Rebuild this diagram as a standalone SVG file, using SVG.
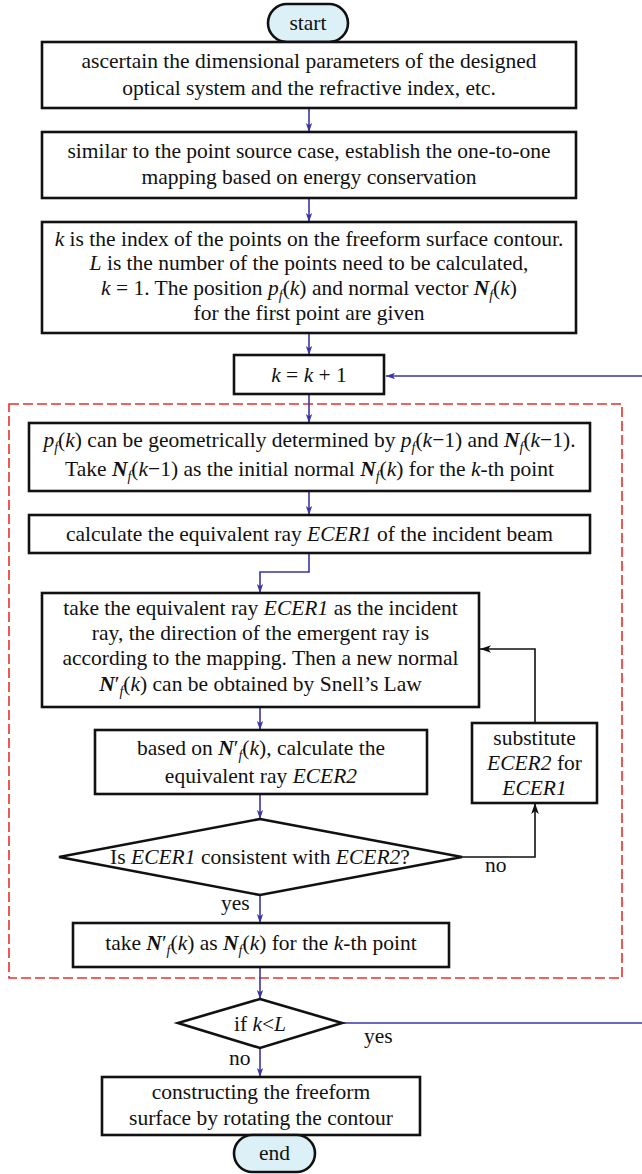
<svg xmlns="http://www.w3.org/2000/svg" width="642" height="1174" viewBox="0 0 642 1174" font-family="'Liberation Serif', 'DejaVu Serif', serif">
  <defs>
    <style>
      .box { fill: #ffffff; stroke: #111111; stroke-width: 2.6; }
      .term { fill: #dcf1f7; stroke: #111111; stroke-width: 2.6; }
      text { font-family: 'Liberation Serif', 'DejaVu Serif', serif; font-size: 21.5px; fill: #111111; }
      .t { text-anchor: middle; }
      .i { font-style: italic; }
      .bi { font-style: italic; font-weight: bold; }
      .sub { font-style: italic; font-size: 14px; }
      .flow { fill: none; stroke: #3a35a8; stroke-width: 1.6; }
      .back { fill: none; stroke: #111111; stroke-width: 1.6; }
      .frame { fill: none; stroke: #e8302a; stroke-width: 1.6; stroke-dasharray: 10 4; }
    </style>
    <marker id="ah" viewBox="0 0 10 10" refX="10" refY="5" markerWidth="9" markerHeight="9" markerUnits="userSpaceOnUse" orient="auto">
      <path d="M0,1.5 L10,5 L0,8.5 L2.5,5 Z" fill="#3a35a8"/>
    </marker>
    <marker id="ahk" viewBox="0 0 10 10" refX="10" refY="5" markerWidth="11" markerHeight="11" markerUnits="userSpaceOnUse" orient="auto">
      <path d="M0,1.5 L10,5 L0,8.5 L2.5,5 Z" fill="#111111"/>
    </marker>
  </defs>

  <!-- dashed frame around the per-point iteration -->
  <rect class="frame" x="9" y="404" width="613" height="574"/>

  <g id="connectors">
    <path class="flow" d="M309,108 V132" marker-end="url(#ah)"/>
    <path class="flow" d="M309,198 V222" marker-end="url(#ah)"/>
    <path class="flow" d="M309,333 V355" marker-end="url(#ah)"/>
    <path class="flow" d="M642,376 H386" marker-end="url(#ah)"/>
    <path class="flow" d="M309,394 V423" marker-end="url(#ah)"/>
    <path class="flow" d="M309,491 V515" marker-end="url(#ah)"/>
    <path class="flow" d="M309,553 V572 H260 V593" marker-end="url(#ah)"/>
    <path class="flow" d="M260,707 V730" marker-end="url(#ah)"/>
    <path class="flow" d="M260,794 V819" marker-end="url(#ah)"/>
    <path class="back" d="M462,857 H535 V803" marker-end="url(#ahk)"/>
    <path class="back" d="M535,723 V649 H480" marker-end="url(#ahk)"/>
    <path class="flow" d="M260,895 V923" marker-end="url(#ah)"/>
    <path class="flow" d="M260,967 V999" marker-end="url(#ah)"/>
    <path class="flow" d="M342,1023 H642"/>
    <path class="flow" d="M260,1048 V1077" marker-end="url(#ah)"/>
    <text x="485" y="872">no</text>
    <text x="221" y="910">yes</text>
    <text x="364" y="1043">yes</text>
    <text x="229" y="1065">no</text>
  </g>

  <g id="start">
    <rect class="term" x="268" y="4" width="80" height="38" rx="19"/>
    <text class="t" x="308" y="30">start</text>
  </g>

  <g id="parameters">
    <rect class="box" x="42" y="42" width="534" height="66"/>
    <text class="t" x="309" y="68">ascertain the dimensional parameters of the designed</text>
    <text class="t" x="309" y="95">optical system and the refractive index, etc.</text>
  </g>

  <g id="mapping">
    <rect class="box" x="42" y="132" width="534" height="66"/>
    <text class="t" x="309" y="158">similar to the point source case, establish the one-to-one</text>
    <text class="t" x="309" y="184">mapping based on energy conservation</text>
  </g>

  <g id="init">
    <rect class="box" x="42" y="222" width="534" height="111"/>
    <text class="t" x="309" y="246"><tspan class="i">k</tspan> is the index of the points on the freeform surface contour.</text>
    <text class="t" x="309" y="270"><tspan class="i">L</tspan> is the number of the points need to be calculated,</text>
    <text class="t" x="309" y="295"><tspan class="i">k</tspan> = 1. The position <tspan class="i">p</tspan><tspan class="sub" dy="4.5">f</tspan><tspan dy="-4.5">(</tspan><tspan class="i">k</tspan>) and normal vector <tspan class="bi">N</tspan><tspan class="sub" dy="4.5">f</tspan><tspan dy="-4.5">(</tspan><tspan class="i">k</tspan>)</text>
    <text class="t" x="309" y="320">for the first point are given</text>
  </g>

  <g id="increment">
    <rect class="box" x="234" y="355" width="150" height="39"/>
    <text class="t" x="309" y="382"><tspan class="i">k</tspan> = <tspan class="i">k</tspan> + 1</text>
  </g>

  <g id="predict">
    <rect class="box" x="29" y="423" width="561" height="68"/>
    <text class="t" x="309.5" y="447"><tspan class="i">p</tspan><tspan class="sub" dy="4.5">f</tspan><tspan dy="-4.5">(</tspan><tspan class="i">k</tspan>) can be geometrically determined by <tspan class="i">p</tspan><tspan class="sub" dy="4.5">f</tspan><tspan dy="-4.5">(</tspan><tspan class="i">k</tspan>−1) and <tspan class="bi">N</tspan><tspan class="sub" dy="4.5">f</tspan><tspan dy="-4.5">(</tspan><tspan class="i">k</tspan>−1).</text>
    <text class="t" x="309.5" y="476">Take <tspan class="bi">N</tspan><tspan class="sub" dy="4.5">f</tspan><tspan dy="-4.5">(</tspan><tspan class="i">k</tspan>−1) as the initial normal <tspan class="bi">N</tspan><tspan class="sub" dy="4.5">f</tspan><tspan dy="-4.5">(</tspan><tspan class="i">k</tspan>) for the <tspan class="i">k</tspan>-th point</text>
  </g>

  <g id="ecer1">
    <rect class="box" x="29" y="515" width="561" height="38"/>
    <text class="t" x="309.5" y="541">calculate the equivalent ray <tspan class="i">ECER1</tspan> of the incident beam</text>
  </g>

  <g id="snell">
    <rect class="box" x="42" y="593" width="437" height="114"/>
    <text class="t" x="260.5" y="615">take the equivalent ray <tspan class="i">ECER1</tspan> as the incident</text>
    <text class="t" x="260.5" y="640">ray, the direction of the emergent ray is</text>
    <text class="t" x="260.5" y="665">according to the mapping. Then a new normal</text>
    <text class="t" x="260.5" y="691"><tspan class="bi">N</tspan>′<tspan class="sub" dy="4.5">f</tspan><tspan dy="-4.5">(</tspan><tspan class="i">k</tspan>) can be obtained by Snell’s Law</text>
  </g>

  <g id="ecer2">
    <rect class="box" x="95" y="730" width="332" height="64"/>
    <text class="t" x="261" y="755">based on <tspan class="bi">N</tspan>′<tspan class="sub" dy="4.5">f</tspan><tspan dy="-4.5">(</tspan><tspan class="i">k</tspan>), calculate the</text>
    <text class="t" x="261" y="783">equivalent ray <tspan class="i">ECER2</tspan></text>
  </g>

  <g id="consistent">
    <polygon class="box" points="260,819 462,857 260,895 59,857"/>
    <text class="t" x="260" y="864">Is <tspan class="i">ECER1</tspan> consistent with <tspan class="i">ECER2</tspan>?</text>
  </g>

  <g id="substitute">
    <rect class="box" x="472" y="723" width="125" height="80"/>
    <text class="t" x="534.5" y="745">substitute</text>
    <text class="t" x="534.5" y="770"><tspan class="i">ECER2</tspan> for</text>
    <text class="t" x="534.5" y="795"><tspan class="i">ECER1</tspan></text>
  </g>

  <g id="accept">
    <rect class="box" x="73" y="923" width="376" height="44"/>
    <text class="t" x="261" y="950">take <tspan class="bi">N</tspan>′<tspan class="sub" dy="4.5">f</tspan><tspan dy="-4.5">(</tspan><tspan class="i">k</tspan>) as <tspan class="bi">N</tspan><tspan class="sub" dy="4.5">f</tspan><tspan dy="-4.5">(</tspan><tspan class="i">k</tspan>) for the <tspan class="i">k</tspan>-th point</text>
  </g>

  <g id="check">
    <polygon class="box" points="260,999 342,1023 260,1048 178,1023"/>
    <text class="t" x="260" y="1031">if <tspan class="i">k</tspan>&lt;<tspan class="i">L</tspan></text>
  </g>

  <g id="construct">
    <rect class="box" x="102" y="1077" width="318" height="58"/>
    <text class="t" x="261" y="1099">constructing the freeform</text>
    <text class="t" x="261" y="1125">surface by rotating the contour</text>
  </g>

  <g id="end">
    <rect class="term" x="234" y="1135" width="81" height="37" rx="18.5"/>
    <text class="t" x="274.5" y="1160">end</text>
  </g>
</svg>
